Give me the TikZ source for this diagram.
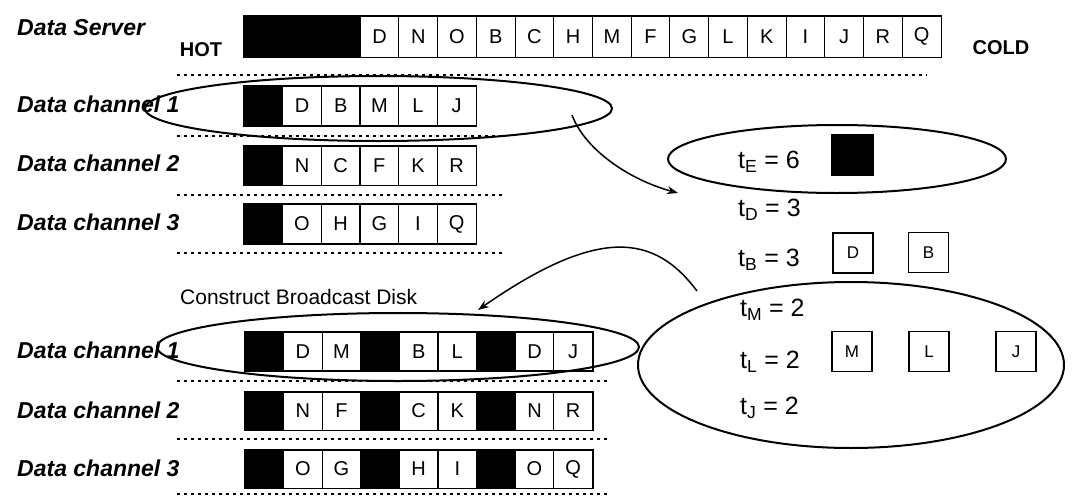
\documentclass[tikz,border=0pt]{standalone}
\usepackage{fontspec}
\setmainfont{Liberation Sans}
\usetikzlibrary{shapes.geometric,arrows.meta}
\tikzset{
  lab/.style={anchor=west,inner sep=0pt,font=\fontsize{23}{23}\selectfont\bfseries\itshape},
  hc/.style={inner sep=0pt,font=\fontsize{20}{20}\selectfont\bfseries},
  cell/.style={draw,line width=1pt,minimum width=38.7pt,minimum height=39pt,inner sep=0pt,font=\fontsize{20}{20}\selectfont},
  blk/.style={cell,fill=black},
  frame/.style={line width=1.6pt},
  dots/.style={line width=1.3pt,dash pattern=on 3pt off 4pt},
  ell/.style={draw,ellipse,line width=2pt,inner sep=0pt},
  tval/.style={anchor=west,inner sep=0pt,font=\fontsize{25}{25}\selectfont},
  rbox/.style={draw,line width=1.5pt,minimum width=40pt,minimum height=40pt,inner sep=0pt,font=\fontsize{17}{17}\selectfont},
  arr/.style={line width=1.5pt,-{Stealth[length=11pt,width=8pt]}},
}
\begin{document}
\begin{tikzpicture}[x=1pt,y=-1pt]
\useasboundingbox (0,0) rectangle (1082,498);
% ---------- Data server row ----------
\node[lab] (lserver) at (17,28) {Data Server};
\node[hc] (hot) at (201,50) {HOT};
\node[hc] (cold) at (1001,48) {COLD};
\node[blk,minimum width=116.2pt,minimum height=41pt] (s0) at (302.1,36.5) {};
\foreach \l [count=\i] in {D,N,O,B,C,H,M,F,G,L,K,I,J,R,Q}
  \node[cell,minimum height=41pt] (s\i) at ({360.2+38.72*(\i-0.5)},36.5) {\l};
\draw[frame] (s0.north west) rectangle (s15.south east);
\draw[dots] (177,75) -- (927,75);
% ---------- channels (before) ----------
\foreach \c/\y/\a/\b/\cc/\d/\e in {1/106/D/B/M/L/J, 2/165.5/N/C/F/K/R, 3/224/O/H/G/I/Q}{
  \node[lab] (lc\c) at (17,{\y-2}) {Data channel \c};
  \node[blk] (c\c k0) at (263.3,\y) {};
  \foreach \l [count=\i] in {\a,\b,\cc,\d,\e}
    \node[cell] (c\c k\i) at ({244+38.67*(\i+0.5)},\y) {\l};
  \draw[frame] (c\c k0.north west) rectangle (c\c k5.south east);
}
\draw[dots] (177,136) -- (505,136);
\draw[dots] (177,195) -- (505,195);
\draw[dots] (177,253) -- (505,253);
% ---------- broadcast disk ----------
\node[anchor=west,inner sep=0pt,font=\fontsize{21}{21}\selectfont] (cbd) at (180,297) {Construct Broadcast Disk};
\foreach \c/\y/\a/\b/\cc/\d/\e/\f in {1/351.5/D/M/B/L/D/J, 2/411/N/F/C/K/N/R, 3/469/O/G/H/I/O/Q}{
  \node[lab] (bl\c) at (17,{\y-1}) {Data channel \c};
  \foreach \l/\k in {\a/1,\b/2,\cc/4,\d/5,\e/7,\f/8}
    \node[cell,minimum height=38pt] (b\c k\k) at ({245+38.6*(\k+0.5)},\y) {\l};
  \foreach \k in {0,3,6}
    \node[blk,minimum height=38pt] (b\c k\k) at ({245+38.6*(\k+0.5)},\y) {};
  \draw[frame] (b\c k0.north west) rectangle (b\c k8.south east);
}
\draw[dots] (177,381) -- (608,381);
\draw[dots] (177,439) -- (608,439);
\draw[dots] (177,494) -- (608,494);
% ---------- ellipses ----------
\node[ell,minimum width=467pt,minimum height=65pt] (sel1) at (378.5,108.5) {};
\node[ell,minimum width=482pt,minimum height=68pt] (sel2) at (398,347) {};
\node[ell,minimum width=338pt,minimum height=68pt] (eE) at (837,159) {};
\node[ell,minimum width=426pt,minimum height=166pt] (eBig) at (851,365) {};
% ---------- right side ----------
\node[tval] (tE) at (738,162) {t\textsubscript{E} = 6};
\node[rbox,fill=black,minimum width=41pt] (bE) at (852.5,155) {};
\node[tval] (tD) at (738,210) {t\textsubscript{D} = 3};
\node[tval] (tB) at (738,260) {t\textsubscript{B} = 3};
\node[rbox] (rD) at (853,253) {D};
\node[rbox] (rB) at (928.5,252.5) {B};
\node[tval] (tM) at (740,310) {t\textsubscript{M} = 2};
\node[tval] (tL) at (740,362) {t\textsubscript{L} = 2};
\node[tval] (tJ) at (740,408) {t\textsubscript{J} = 2};
\node[rbox] (rM) at (852,351.5) {M};
\node[rbox] (rL) at (929,351.5) {L};
\node[rbox] (rJ) at (1016,351.5) {J};
% ---------- arrows ----------
\coordinate (a1s) at (572,115);
\coordinate (a1e) at (678,193);
\coordinate (a2s) at (697,291);
\coordinate (a2e) at (478,310);
\draw[arr] (a1s) .. controls (585,150) and (630,180) .. (a1e);
\draw[arr] (a2s) .. controls (655,235) and (600,225) .. (a2e);
\end{tikzpicture}
\end{document}
